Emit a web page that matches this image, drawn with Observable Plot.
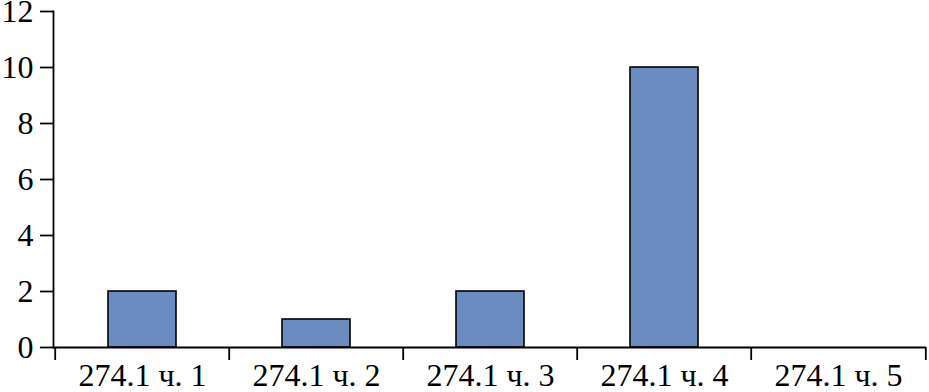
<!DOCTYPE html>
<html>
<head>
<meta charset="utf-8">
<script src="https://cdn.jsdelivr.net/npm/d3@7"></script>
<script src="https://cdn.jsdelivr.net/npm/@observablehq/plot@0.6"></script>
<style>
  html, body { margin: 0; padding: 0; background: #fff; }
  svg { display: block; }
</style>
</head>
<body>
<div id="chart"></div>
<script>
const categories = ["274.1 ч. 1", "274.1 ч. 2", "274.1 ч. 3", "274.1 ч. 4", "274.1 ч. 5"];
const values = [2, 1, 2, 10, 0];
const yTicks = [0, 2, 4, 6, 8, 10, 12];

const data = categories.map((c, i) => ({category: c, value: values[i]}));

const W = 929, H = 392;
const mL = 53, mR = 3, mT = 11, mB = 45;
const step = (W - mL - mR) / categories.length;

const chart = Plot.plot({
  width: W,
  height: H,
  marginLeft: mL,
  marginRight: mR,
  marginTop: mT,
  marginBottom: mB,
  style: {fontFamily: "'Liberation Serif', 'Times New Roman', serif", fontSize: "32px", color: "#000", background: "#fff", overflow: "visible"},
  x: {domain: categories, paddingInner: 0.61, paddingOuter: 0.305, label: null},
  y: {domain: [0, 12], label: null},
  marks: [
    Plot.barY(data, {x: "category", y: "value", fill: "#6b8cc0", stroke: "#000", strokeWidth: 1.6}),
    Plot.axisY({ticks: yTicks, tickSize: 13, tickPadding: 7, strokeWidth: 1.8, fontSize: 32, label: null}),
    Plot.axisX({tickSize: 0, tickPadding: 16, fontSize: 32, label: null}),
    Plot.axisX({ticks: categories, tickSize: 13, text: null, dx: -step / 2, strokeWidth: 1.8, label: null}),
    Plot.axisX({ticks: [categories[categories.length - 1]], tickSize: 13, text: null, dx: step / 2, strokeWidth: 1.8, label: null}),
    Plot.ruleY([0], {strokeWidth: 1.8}),
    Plot.frame({anchor: "left", strokeWidth: 1.8})
  ]
});
document.getElementById("chart").appendChild(chart);
</script>
</body>
</html>
